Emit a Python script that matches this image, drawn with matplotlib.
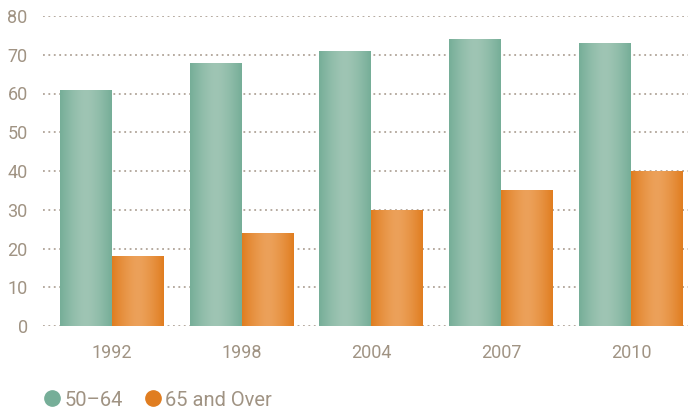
import numpy as np
import matplotlib.pyplot as plt
from matplotlib.colors import LinearSegmentedColormap
from matplotlib.lines import Line2D

# Chart data
years = ['1992', '1998', '2004', '2007', '2010']
age_50_64 = [61, 68, 71, 74, 73]
age_65_over = [18, 24, 30, 35, 40]
series_names = ['50\u201364', '65 and Over']

text_color = '#a09383'
grid_color = '#b0a498'
green_edge, green_mid = '#76ae98', '#9fc5b4'
orange_edge, orange_mid = '#e07d20', '#eca15a'

plt.rcParams['font.family'] = ['Roboto', 'DejaVu Sans']

fig = plt.figure(figsize=(6.94, 4.13), dpi=100)
ax = fig.add_axes([43 / 694, (413 - 326) / 413, (688 - 43) / 694, (326 - 16) / 413])

bar_width = 0.4
x = np.arange(len(years))

# horizontal gradient: darker edges, lighter middle
grad = np.abs(np.linspace(-1, 1, 64))
grad = 1 - grad ** 1.5
grad = grad.reshape(1, -1)


def draw_bars(xs, values, edge, mid):
    cmap = LinearSegmentedColormap.from_list('g', [edge, mid])
    bars = ax.bar(xs, values, width=bar_width, color=edge, zorder=2)
    for b in bars:
        img = ax.imshow(grad, cmap=cmap, aspect='auto', zorder=3,
                        extent=[b.get_x(), b.get_x() + b.get_width(), 0, b.get_height()],
                        vmin=0, vmax=1)
        img.set_clip_path(b)


draw_bars(x - bar_width / 2, age_50_64, green_edge, green_mid)
draw_bars(x + bar_width / 2, age_65_over, orange_edge, orange_mid)

ax.set_xlim(-0.53, 4.44)
ax.set_ylim(0, 80)
ax.set_yticks(range(0, 81, 10))
ax.set_xticks(x)
ax.set_xticklabels(years)

ax.grid(axis='y', linestyle=(0, (1, 2)), color=grid_color, linewidth=1.3, zorder=1)
ax.set_axisbelow(True)
for s in ax.spines.values():
    s.set_visible(False)
ax.tick_params(axis='both', length=0, colors=text_color, labelsize=13)
ax.tick_params(axis='y', pad=11)
ax.tick_params(axis='x', pad=13)

# legend
handles = [Line2D([], [], marker='o', linestyle='', markersize=11, color=green_edge),
           Line2D([], [], marker='o', linestyle='', markersize=11, color=orange_edge)]
leg = fig.legend(handles, series_names, loc='center left', bbox_to_anchor=(42 / 694, 1 - 400 / 413),
                 ncol=2, frameon=False, fontsize=14.5, handletextpad=0.1, columnspacing=1.0,
                 handlelength=1.0, borderpad=0, borderaxespad=0)
for t in leg.get_texts():
    t.set_color(text_color)

fig.savefig('out.png', dpi=100)
